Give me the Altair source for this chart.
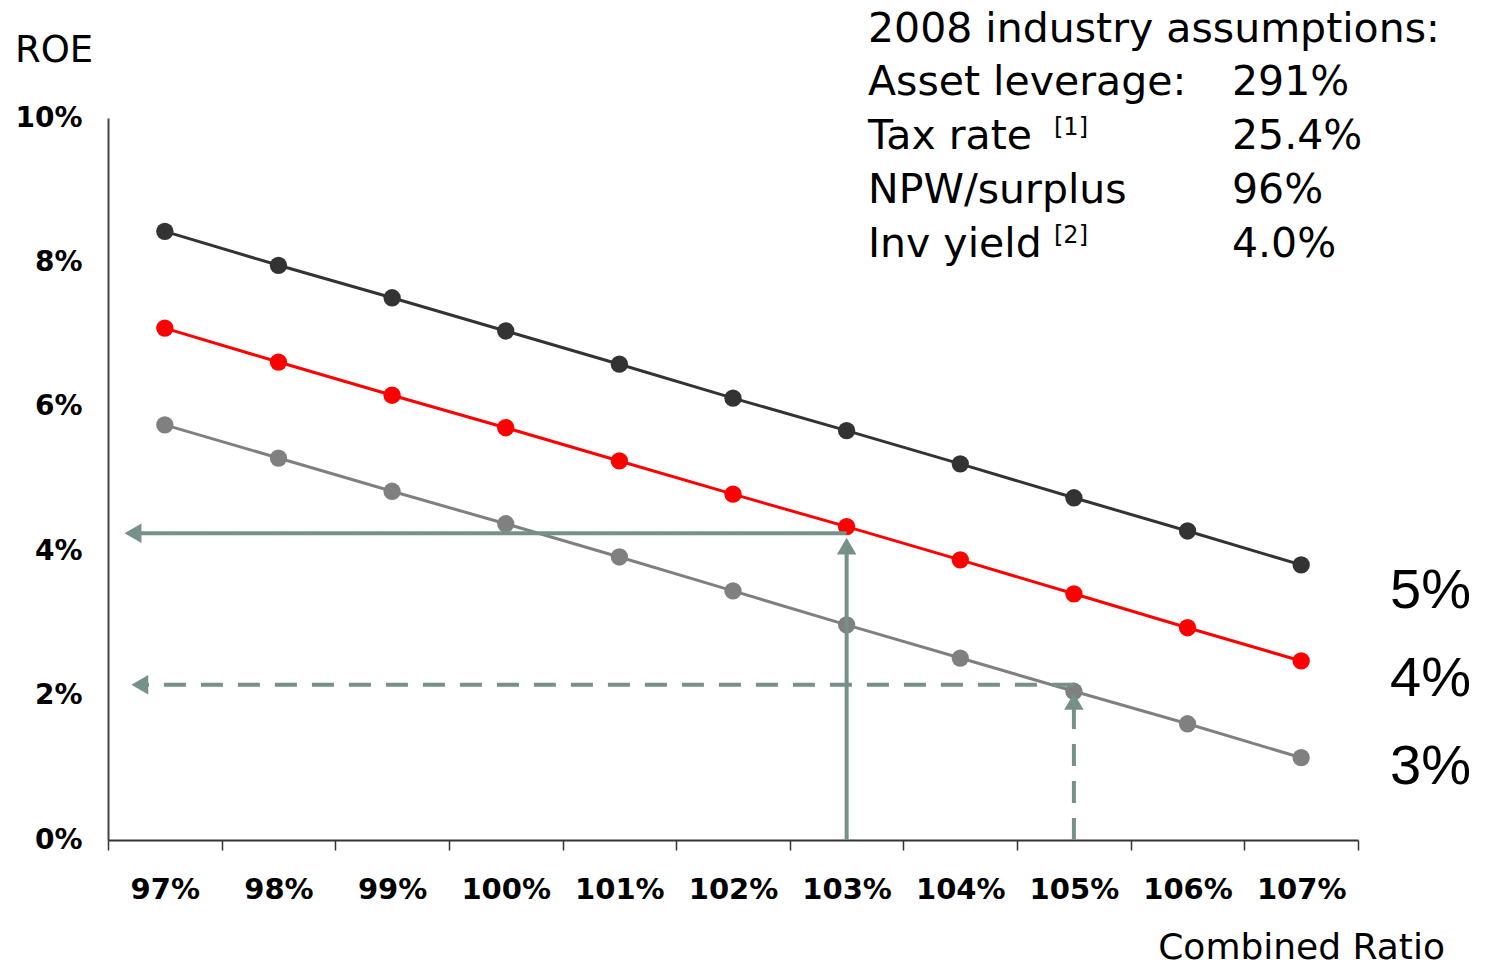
import altair as alt
import pandas as pd

# Combined ratio (%) on the x axis
ratios = [97, 98, 99, 100, 101, 102, 103, 104, 105, 106, 107]

# ROE (%) for three investment-yield scenarios
roe_5 = [8.43, 7.96, 7.51, 7.05, 6.59, 6.12, 5.67, 5.21, 4.74, 4.28, 3.81]
roe_4 = [7.09, 6.62, 6.16, 5.71, 5.25, 4.79, 4.34, 3.88, 3.41, 2.94, 2.48]
roe_3 = [5.75, 5.29, 4.83, 4.38, 3.92, 3.45, 2.98, 2.52, 2.06, 1.61, 1.14]

series_names = ["5%", "4%", "3%"]
series_colors = ["#333333", "#ff0000", "#808080"]

# Read-off guides: (style, x from, x to, y from, y to)
guide_style = ["solid", "solid", "dashed", "dashed"]
guide_x0 = [103, 103, 105, 105]
guide_x1 = [96.72, 103, 96.78, 105]
guide_y0 = [4.25, 0, 2.15, 0]
guide_y1 = [4.25, 4.07, 2.15, 1.92]
head_x = [96.72, 103, 96.78, 105]
head_y = [4.25, 4.07, 2.15, 1.92]
head_dir = ["left", "up", "left", "up"]

assump_labels = ["Asset leverage:", "Tax rate", "NPW/surplus", "Inv yield"]
assump_values = ["291%", "25.4%", "96%", "4.0%"]
assump_notes = ["", "[1]", "", "[2]"]

W, H = 1250, 722
GUIDE = "#76908a"
FONT = "DejaVu Sans"

rows = []
for name, vals in zip(series_names, [roe_5, roe_4, roe_3]):
    for r, v in zip(ratios, vals):
        rows.append({"ratio": r, "roe": v, "series": name})
df = pd.DataFrame(rows)

x_scale = alt.Scale(domain=[96.5, 107.5], nice=False, zero=False)
y_scale = alt.Scale(domain=[0, 10], nice=False)
color_scale = alt.Scale(domain=series_names, range=series_colors)

tick_vals = [r - 0.5 for r in ratios] + [ratios[-1] + 0.5]

x_enc = alt.X(
    "ratio:Q",
    scale=x_scale,
    axis=alt.Axis(
        values=tick_vals,
        labelExpr="datum.value < 107 ? format(datum.value + 0.5, 'd') + '%' : ''",
        labelOffset=W / 22,
        labelFlush=False,
        labelOverlap=False,
        title=None,
        grid=False,
        ticks=True,
        tickSize=10,
        tickColor="#333333",
        tickWidth=1.5,
        domainColor="#333333",
        domainWidth=2,
        labelFont=FONT,
        labelFontSize=29,
        labelFontWeight="bold",
        labelColor="#000000",
        labelPadding=25,
    ),
)
y_enc = alt.Y(
    "roe:Q",
    scale=y_scale,
    axis=alt.Axis(
        values=[0, 2, 4, 6, 8, 10],
        labelExpr="datum.value + '%'",
        title=None,
        grid=False,
        ticks=False,
        tickSize=0,
        domainColor="#444444",
        domainWidth=2,
        labelFont=FONT,
        labelFontSize=28,
        labelFontWeight="bold",
        labelColor="#000000",
        labelPadding=26,
    ),
)

base = alt.Chart(df)
lines = base.mark_line(strokeWidth=3).encode(
    x=x_enc, y=y_enc,
    color=alt.Color("series:N", scale=color_scale, legend=None),
)
points = base.mark_circle(size=300, opacity=1).encode(
    x="ratio:Q", y="roe:Q",
    color=alt.Color("series:N", scale=color_scale, legend=None),
)

guides_df = pd.DataFrame({
    "style": guide_style, "x0": guide_x0, "x1": guide_x1,
    "y0": guide_y0, "y1": guide_y1,
})
guides = alt.Chart(guides_df).mark_rule(strokeWidth=4, color=GUIDE).encode(
    x=alt.X("x0:Q", scale=x_scale),
    x2="x1:Q",
    y=alt.Y("y0:Q", scale=y_scale),
    y2="y1:Q",
    strokeDash=alt.StrokeDash(
        "style:N",
        scale=alt.Scale(domain=["solid", "dashed"], range=[[1, 0], [22, 15]]),
        legend=None,
    ),
)

heads_df = pd.DataFrame({"x": head_x, "y": head_y, "dir": head_dir})
heads = alt.Chart(heads_df).mark_point(filled=True, size=380, opacity=1, color=GUIDE).encode(
    x=alt.X("x:Q", scale=x_scale),
    y=alt.Y("y:Q", scale=y_scale),
    shape=alt.Shape(
        "dir:N",
        scale=alt.Scale(domain=["left", "up"], range=["triangle-left", "triangle-up"]),
        legend=None,
    ),
)

one_row = pd.DataFrame({"k": [0]})


def label(text, x, y, size, align="left", font=FONT, weight="normal"):
    return alt.Chart(one_row).mark_text(
        align=align, baseline="alphabetic", font=font, fontSize=size,
        fontWeight=weight, color="#000000",
    ).encode(x=alt.value(x), y=alt.value(y), text=alt.value(text))


texts = [
    label("ROE", -93, -56, 37),
    label("Combined Ratio", 1337, 841, 36, align="right"),
    label("2008 industry assumptions:", 760, -76, 41),
]
for i, (lab, val, note) in enumerate(zip(assump_labels, assump_values, assump_notes)):
    yb = -23 + 54 * i
    texts.append(label(lab, 760, yb, 41))
    texts.append(label(val, 1124, yb, 41))
    if note:
        texts.append(label(note, 946, yb - 14, 24))

# series names at the right edge
for i, name in enumerate(series_names):
    texts.append(label(name, 1282, 490 + 88 * i, 56, font="Liberation Sans"))

chart = alt.layer(lines, points, guides, heads, *texts).properties(
    width=W,
    height=H,
    autosize=alt.AutoSizeParams(type="none"),
    padding={"left": 108, "top": 118, "right": 132, "bottom": 128},
    background="#ffffff",
).configure_view(stroke=None)

chart.save("out.html", embed_options={"renderer": "svg", "actions": False})
